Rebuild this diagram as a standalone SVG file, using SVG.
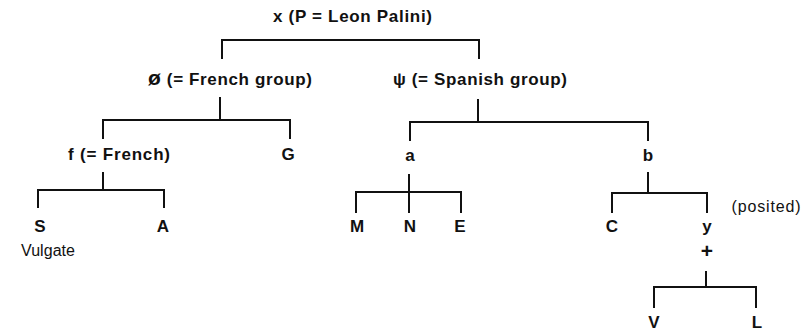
<svg xmlns="http://www.w3.org/2000/svg" width="808" height="335" viewBox="0 0 808 335">
  <style>
    text { font-family: "Liberation Sans", Arial, sans-serif; font-weight: bold; font-size: 17px; fill: #111; text-anchor: middle; }
    .note { font-weight: normal; font-size: 16px; }
    .big { font-size: 21px; }
    .link { fill: none; stroke: #111; stroke-width: 2; stroke-linecap: square; }
  </style>
  <rect width="808" height="335" fill="#fff"/>

  <!-- connectors: brackets from each parent to its children -->
  <g id="connectors">
    <path class="link" d="M222,58 V40 H479 V58"/>
    <path class="link" d="M220,98 V120 M103,138 V120 H290 V138"/>
    <path class="link" d="M478,100 V122 M410,140 V122 H648 V140"/>
    <path class="link" d="M103,173 V190 M38,207 V190 H164 V207"/>
    <path class="link" d="M409,175 V212 M356,212 V192 H461 V212"/>
    <path class="link" d="M648,173 V193 M612,212 V193 H707 V212"/>
    <path class="link" d="M706,272 V287 M654,307 V287 H756 V307"/>
  </g>

  <g id="node-x"><text x="352.5" y="22" textLength="159" lengthAdjust="spacing">x (P = Leon Palini)</text></g>
  <g id="node-phi"><text x="230" y="85" textLength="164" lengthAdjust="spacing"><tspan class="big">ø</tspan> (= French group)</text></g>
  <g id="node-psi"><text x="480" y="85" textLength="174" lengthAdjust="spacing">ψ (= Spanish group)</text></g>
  <g id="node-f"><text x="119" y="160" textLength="102" lengthAdjust="spacing">f (= French)</text></g>
  <g id="node-G"><text x="288" y="160">G</text></g>
  <g id="node-a"><text x="410" y="161">a</text></g>
  <g id="node-b"><text x="648" y="161">b</text></g>
  <g id="node-S">
    <text x="40" y="232">S</text>
    <text class="note" x="48" y="256" textLength="54" lengthAdjust="spacing">Vulgate</text>
  </g>
  <g id="node-A"><text x="163" y="232">A</text></g>
  <g id="node-M"><text x="357" y="232">M</text></g>
  <g id="node-N"><text x="410" y="232">N</text></g>
  <g id="node-E"><text x="460" y="232">E</text></g>
  <g id="node-C"><text x="612" y="232">C</text></g>
  <g id="node-y">
    <text x="707" y="232">y</text>
    <text class="note" x="766" y="212" textLength="69" lengthAdjust="spacing">(posited)</text>
    <text x="707" y="258" style="font-size:21px">+</text>
  </g>
  <g id="node-V"><text x="654" y="328">V</text></g>
  <g id="node-L"><text x="757" y="328">L</text></g>
</svg>
